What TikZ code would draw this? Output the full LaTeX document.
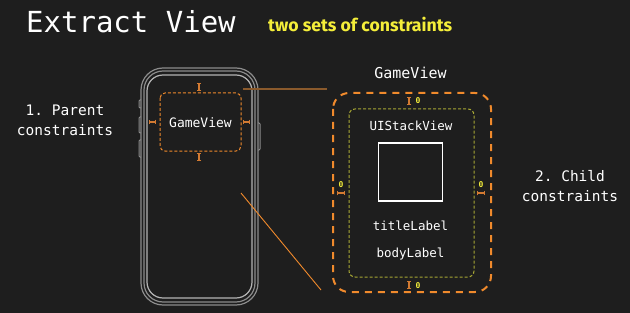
\documentclass[tikz,border=0pt]{standalone}
\usepackage{fontspec}
\setmonofont{DejaVu Sans Mono}
\newfontfamily\handfont{Fira Sans}
\usetikzlibrary{arrows.meta}
\definecolor{bgc}{HTML}{1E1E1E}
\definecolor{orng}{HTML}{F08A2C}
\definecolor{beam}{HTML}{D27A32}
\definecolor{olive}{HTML}{A8A834}
\definecolor{yel}{HTML}{F4EE3A}
\definecolor{phoneA}{HTML}{8C8C8C}
\definecolor{phoneB}{HTML}{B4B4B4}
\definecolor{link}{HTML}{8A5A2C}
\tikzset{
  mono/.style={text=white, font=\ttfamily, inner sep=0pt},
  ibeam/.style={draw=beam, line width=1.3pt, {Bar[width=4.5pt,line width=1.3pt]}-{Bar[width=4.5pt,line width=1.3pt]}},
  zero/.style={text=yel, font=\ttfamily\bfseries\fontsize{8}{9}\selectfont, inner sep=0pt},
  shell/.style={line width=1.2pt, rounded corners=#1},
}
\begin{document}
\begin{tikzpicture}[x=1pt,y=-1pt]
\fill[bgc] (0,0) rectangle (630,313);
\useasboundingbox (0,0) rectangle (630,313);

% headline
\node[mono, anchor=base west, font=\ttfamily\fontsize{29}{31}\selectfont] (title) at (26,33) {Extract View};
\node[text=yel, anchor=base west, inner sep=0pt] (sub) at (268,32)
  {\resizebox{184pt}{!}{\handfont\bfseries\fontsize{15}{16}\selectfont two sets of constraints}};

% side labels
\node[mono, align=center, font=\ttfamily\fontsize{14.5}{20}\selectfont] (parent) at (65,120) {1. Parent\\constraints};
\node[mono, align=center, font=\ttfamily\fontsize{14.5}{20}\selectfont] (child) at (570,186) {2. Child\\constraints};

% phone body
\draw[phoneA, shell=22pt] (141,68) rectangle (258,305);
\draw[phoneA, shell=19pt] (144,71) rectangle (255,302);
\draw[phoneB, shell=16pt] (147,75) rectangle (252,298);
% side buttons
\draw[phoneA, line width=1pt, rounded corners=1pt] (141,100) -- (139,100) -- (139,108) -- (141,108);
\draw[phoneA, line width=1pt, rounded corners=1pt] (141,117) -- (139,117) -- (139,133) -- (141,133);
\draw[phoneA, line width=1pt, rounded corners=1pt] (141,140) -- (139,140) -- (139,157) -- (141,157);
\draw[phoneA, line width=1pt, rounded corners=1pt] (258,123) -- (260,123) -- (260,150) -- (258,150);

% GameView inside the phone
\draw[orng, line width=1pt, dash pattern=on 3pt off 2pt, rounded corners=5pt] (160,93) rectangle (241,151);
\node[mono, font=\ttfamily\fontsize{13}{15}\selectfont] (gvsmall) at (200.5,123) {GameView};
\coordinate (ptop1) at (199,83);   \coordinate (ptop2) at (199,91);
\coordinate (pbot1) at (199,153);  \coordinate (pbot2) at (199,161);
\coordinate (plef1) at (149,122);  \coordinate (plef2) at (156,122);
\coordinate (prig1) at (243,122);  \coordinate (prig2) at (250,122);
\draw[ibeam] (ptop1) -- (ptop2);
\draw[ibeam] (pbot1) -- (pbot2);
\draw[ibeam] (plef1) -- (plef2);
\draw[ibeam] (prig1) -- (prig2);

% expanded GameView
\node[mono, font=\ttfamily\fontsize{15}{17}\selectfont] (gvbig) at (410.5,73) {GameView};
\draw[orng, line width=2pt, dash pattern=on 7pt off 6pt, rounded corners=16pt] (333,93) rectangle (491,292);
\draw[olive, line width=1pt, dash pattern=on 3pt off 2pt, rounded corners=6pt] (349,109) rectangle (474,277);

\node[mono, font=\ttfamily\fontsize{12.5}{14}\selectfont] (stack) at (411,126) {UIStackView};
\node[draw=white, line width=1.2pt, minimum width=64pt, minimum height=58pt, inner sep=0pt] (img) at (410.5,172) {};
\node[mono, font=\ttfamily\fontsize{12.5}{14}\selectfont] (title2) at (410.5,226) {titleLabel};
\node[mono, font=\ttfamily\fontsize{12.5}{14}\selectfont] (body) at (410.5,254) {bodyLabel};

% child constraints with their constants
\coordinate (ctop1) at (409,97);  \coordinate (ctop2) at (409,105);
\coordinate (cbot1) at (409,281); \coordinate (cbot2) at (409,289);
\coordinate (clef1) at (337,193); \coordinate (clef2) at (345,193);
\coordinate (crig1) at (477,193); \coordinate (crig2) at (485,193);
\draw[ibeam] (ctop1) -- (ctop2);
\draw[ibeam] (cbot1) -- (cbot2);
\draw[ibeam] (clef1) -- (clef2);
\draw[ibeam] (crig1) -- (crig2);
\node[zero] (z1) at (418,101) {0};
\node[zero] (z2) at (418,286) {0};
\node[zero] (z3) at (341,185) {0};
\node[zero] (z4) at (481,185) {0};

% zoom guide lines
\coordinate (zA) at (243,89);  \coordinate (zB) at (327,89);
\coordinate (zC) at (241,193); \coordinate (zD) at (321,290);
\draw[link, line width=2pt] (zA) -- (zB);
\draw[orng, line width=0.9pt] (zC) -- (zD);
\end{tikzpicture}
\end{document}
